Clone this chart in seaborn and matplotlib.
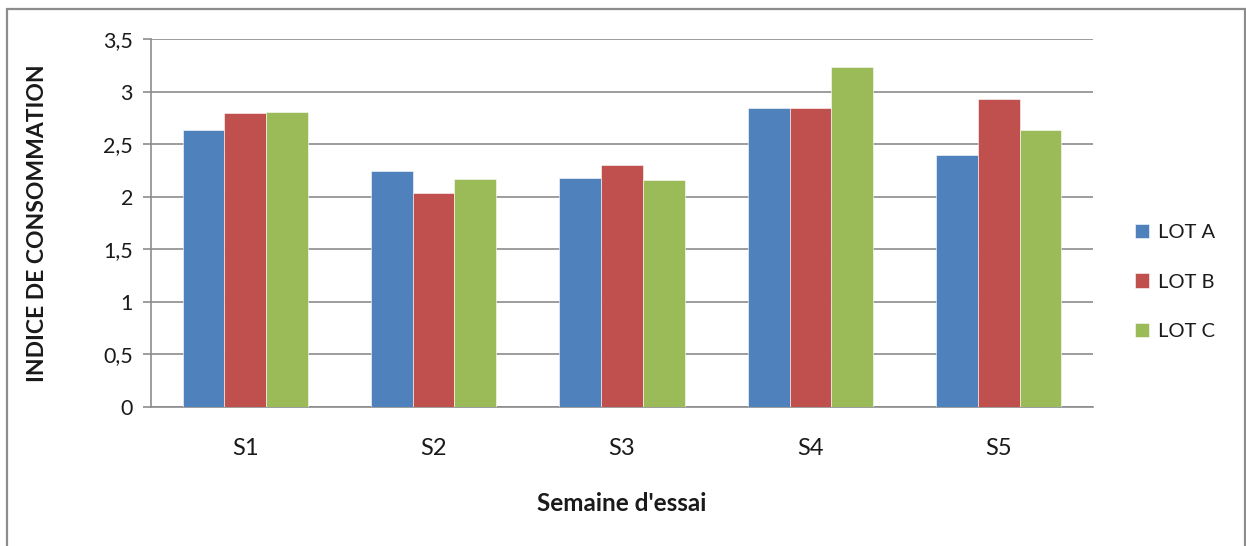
import matplotlib
matplotlib.use("Agg")
import matplotlib.pyplot as plt
import seaborn as sns
import pandas as pd
from matplotlib.patches import Rectangle, Patch

weeks = ["S1", "S2", "S3", "S4", "S5"]
lots = ["LOT A", "LOT B", "LOT C"]
lot_a = [2.64, 2.25, 2.18, 2.85, 2.40]
lot_b = [2.80, 2.04, 2.30, 2.85, 2.93]
lot_c = [2.81, 2.17, 2.16, 3.24, 2.64]
colors = ["#4F81BD", "#C0504D", "#9BBB59"]
y_ticks = [0, 0.5, 1, 1.5, 2, 2.5, 3, 3.5]
y_tick_labels = ["0", "0,5", "1", "1,5", "2", "2,5", "3", "3,5"]

rows = []
for lot, vals in zip(lots, [lot_a, lot_b, lot_c]):
    for w, v in zip(weeks, vals):
        rows.append({"Semaine": w, "Lot": lot, "Indice": v})
df = pd.DataFrame(rows)

sns.set_style("white")
plt.rcParams["font.family"] = ["Lato", "DejaVu Sans"]

fig = plt.figure(figsize=(12.46, 5.46), dpi=100)
ax = fig.add_axes([151 / 1246, 139 / 546, 942 / 1246, 367.7 / 546])

sns.barplot(data=df, x="Semaine", y="Indice", hue="Lot", order=weeks,
            hue_order=lots, palette=colors, width=0.665, saturation=1,
            edgecolor="white", linewidth=0.4, legend=False, ax=ax, zorder=3)

ax.set_ylim(0, 3.5)
ax.set_xlim(-0.5, 4.5)
ax.set_yticks(y_ticks)
ax.set_yticklabels(y_tick_labels)
ax.yaxis.grid(True, color="#8c8c8c", linewidth=1.2, zorder=0)
ax.set_axisbelow(True)

for side in ["top", "right"]:
    ax.spines[side].set_visible(False)
for side in ["left", "bottom"]:
    ax.spines[side].set_color("#8c8c8c")
    ax.spines[side].set_linewidth(1.2)

ax.tick_params(axis="y", which="major", direction="out", length=6,
               width=1.2, color="#8c8c8c", labelsize=15.5, labelcolor="#1a1a1a",
               pad=7, left=True)
ax.tick_params(axis="x", length=0, labelsize=17, labelcolor="#1a1a1a", pad=22)

ax.set_xlabel("Semaine d'essai", fontsize=17.5, fontweight="bold",
              color="#1a1a1a", labelpad=24)
ax.set_ylabel("INDICE DE CONSOMMATION", fontsize=16.5, fontweight="bold",
              color="#1a1a1a", labelpad=40)

handles = [Patch(facecolor=c, edgecolor="white", linewidth=0.4) for c in colors]
fig.legend(handles, lots, loc="center left",
           bbox_to_anchor=(1117 / 1246, (546 - 282) / 546),
           frameon=False, fontsize=14.5, handlelength=0.7, handleheight=0.7,
           handletextpad=0.45, labelspacing=1.6, labelcolor="#1a1a1a")

# Outer chart frame
fig.patches.append(Rectangle((7 / 1246, -0.05), 1237.5 / 1246, (537 / 546) + 0.05,
                             transform=fig.transFigure, fill=False,
                             edgecolor="#8c8c8c", linewidth=1.6))

fig.savefig("out.png", dpi=100, facecolor="white")
